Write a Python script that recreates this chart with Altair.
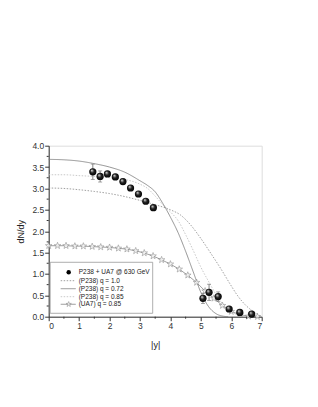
import altair as alt
import pandas as pd

# ---- data ----
circ_x = [1.45, 1.69, 1.93, 2.19, 2.44, 2.69, 2.95, 3.19, 3.44, 5.07, 5.27, 5.57, 5.93, 6.28, 6.67]
circ_y = [3.39, 3.28, 3.34, 3.27, 3.16, 3.01, 2.87, 2.70, 2.55, 0.43, 0.57, 0.47, 0.18, 0.10, 0.06]
circ_err = [0.18, 0.13, 0.04, 0.04, 0.04, 0.04, 0.04, 0.04, 0.04, 0.12, 0.19, 0.11, 0.06, 0.04, 0.04]

star_x = [0, 0.29, 0.57, 0.86, 1.14, 1.43, 1.71, 2.0, 2.29, 2.57, 2.86, 3.14, 3.43, 3.71,
          4.0, 4.29, 4.57, 4.86, 5.14, 5.43, 5.71, 6.0, 6.29, 6.57, 6.86]
star_y = [1.66, 1.66, 1.66, 1.65, 1.65, 1.64, 1.63, 1.62, 1.60, 1.58, 1.54, 1.49, 1.42, 1.33,
          1.23, 1.11, 0.97, 0.80, 0.60, 0.43, 0.26, 0.12, 0.05, 0.01, 0.0]

q072_x = [0, 0.5, 1.0, 1.5, 2.0, 2.5, 3.0, 3.25, 3.5, 3.75, 4.0, 4.25, 4.5, 4.75, 5.0, 5.25, 5.5, 5.75, 5.9]
q072_y = [3.68, 3.67, 3.64, 3.58, 3.50, 3.38, 3.18, 3.07, 2.92, 2.65, 2.33, 1.97, 1.53, 1.05, 0.57, 0.24, 0.07, 0.01, 0.0]

q085_x = [0, 0.5, 1.0, 1.5, 2.0, 2.5, 3.0, 3.25, 3.5, 3.75, 4.0, 4.25, 4.5, 4.75, 5.0, 5.25, 5.5, 5.75, 6.0, 6.25, 6.5]
q085_y = [3.32, 3.32, 3.30, 3.28, 3.25, 3.21, 3.10, 3.00, 2.82, 2.62, 2.45, 2.25, 1.92, 1.55, 1.16, 0.83, 0.52, 0.27, 0.12, 0.03, 0.0]

q100_x = [0, 0.5, 1.0, 1.5, 2.0, 2.5, 3.0, 3.5, 4.0, 4.33, 4.66, 5.0, 5.33, 5.65, 6.0, 6.2, 6.5, 6.75, 7.0]
q100_y = [3.01, 3.00, 2.97, 2.93, 2.88, 2.81, 2.72, 2.62, 2.50, 2.38, 2.15, 1.83, 1.48, 1.13, 0.72, 0.50, 0.25, 0.11, 0.0]

x_ticks = [0, 1, 2, 3, 4, 5, 6, 7]
x_minor = [0.5, 1.5, 2.5, 3.5, 4.5, 5.5, 6.5]
y_ticks = [0, 0.5, 1.0, 1.5, 2.0, 2.5, 3.0, 3.5, 4.0]
y_minor = [0.25, 0.75, 1.25, 1.75, 2.25, 2.75, 3.25, 3.75]

legend_labels = ["P238 + UA7 @ 630 GeV", "(P238)  q = 1.0", "(P238)  q = 0.72",
                 "(P238)  q = 0.85", "(UA7)  q = 0.85"]

W, H = 213, 171
STAR = "M0,-1L0.235,-0.324L0.951,-0.309L0.380,0.124L0.588,0.809L0,0.4L-0.588,0.809L-0.380,0.124L-0.951,-0.309L-0.235,-0.324Z"
FONT = "Liberation Sans"

circ = pd.DataFrame({"x": circ_x, "y": circ_y,
                     "lo": [a - b for a, b in zip(circ_y, circ_err)],
                     "hi": [a + b for a, b in zip(circ_y, circ_err)]})
stars = pd.DataFrame({"x": star_x, "y": star_y})
c072 = pd.DataFrame({"x": q072_x, "y": q072_y})
c085 = pd.DataFrame({"x": q085_x, "y": q085_y})
c100 = pd.DataFrame({"x": q100_x, "y": q100_y})

xs = alt.Scale(domain=[0, 7], nice=False)
ys = alt.Scale(domain=[0, 4], nice=False)

xax = alt.Axis(values=x_ticks, format="d", tickSize=4, labelOverlap=False, tickCount=8,
               grid=False, title="|y|", titleFontSize=9, titleFontWeight="normal",
               titlePadding=10, titleColor="#222",
               labelFontSize=8.5, labelColor="#333", domainColor="#333", tickColor="#333", labelPadding=1)
yax = alt.Axis(values=y_ticks, format=".1f", tickSize=4, labelOverlap=False, tickCount=9,
               grid=False, title="dN/dy", titleFontSize=9, titleFontWeight="normal",
               titlePadding=6, titleColor="#222",
               labelFontSize=8.5, labelColor="#333", domainColor="#333", tickColor="#333", labelPadding=1)


def XE(field="x"):
    return alt.X(f"{field}:Q", scale=xs, axis=xax, title="|y|")


def YE(field="y"):
    return alt.Y(f"{field}:Q", scale=ys, axis=yax, title="dN/dy")


def curve(df, color, dash, width=0.8):
    m = alt.Chart(df).mark_line(color=color, strokeWidth=width, interpolate="monotone",
                                strokeDash=dash if dash else [1, 0])
    return m.encode(x=XE(), y=YE())


base = alt.Chart(stars).mark_line(color="#777", strokeWidth=0.7).encode(x=XE(), y=YE())
l100 = curve(c100, "#888", [1.5, 1.5])
l085 = curve(c085, "#bbb", [1.5, 1.5])
l072 = curve(c072, "#777", None)
starpts = alt.Chart(stars).mark_point(shape=STAR, size=48, filled=True, fill="white",
                                      stroke="#777", strokeWidth=0.7).encode(x=XE(), y=YE())

# minor ticks (outside the frame)
xminor = alt.Chart(pd.DataFrame({"x": x_minor})).mark_rule(color="#333", strokeWidth=1).encode(
    x=XE(), y=alt.value(H), y2=alt.value(H + 2))
yminor = alt.Chart(pd.DataFrame({"y": y_minor})).mark_rule(color="#333", strokeWidth=1).encode(
    y=YE(), x=alt.value(0), x2=alt.value(-2))

ebar = alt.Chart(circ).mark_rule(color="#666", strokeWidth=0.8).encode(
    x=XE(), y=YE("lo"), y2="hi:Q")
cap_lo = alt.Chart(circ).mark_tick(color="#666", thickness=0.8, size=4, orient="horizontal").encode(
    x=XE(), y=YE("lo"))
cap_hi = alt.Chart(circ).mark_tick(color="#666", thickness=0.8, size=4, orient="horizontal").encode(
    x=XE(), y=YE("hi"))

grad = alt.RadialGradient(gradient="radial", x1=0.35, y1=0.3, r1=0.02, x2=0.5, y2=0.5, r2=0.55,
                          stops=[alt.GradientStop(color="#e0e0e0", offset=0),
                                 alt.GradientStop(color="#222", offset=0.45),
                                 alt.GradientStop(color="#000", offset=1)])
dots = alt.Chart(circ).mark_point(shape="circle", size=52, filled=True, fill=grad, opacity=1,
                                  strokeWidth=0).encode(x=XE(), y=YE())

# ---- legend (drawn in pixel space inside the plot) ----
leg_rows = [126.6, 135.0, 143.0, 151.0, 158.6]
leg_df = pd.DataFrame({"label": legend_labels, "py": leg_rows})
box = alt.Chart(pd.DataFrame({"a": [0]})).mark_rect(fill="white", stroke="#999", strokeWidth=0.8).encode(
    x=alt.value(1.5), x2=alt.value(104), y=alt.value(116.6), y2=alt.value(167.6))
ltext = alt.Chart(leg_df).mark_text(align="left", baseline="middle", fontSize=6.5, font=FONT,
                                    color="#222").encode(
    x=alt.value(30), y=alt.Y("py:Q", scale=None, axis=None), text="label:N")


def lline(row, color, dash):
    return alt.Chart(pd.DataFrame({"a": [0]})).mark_rule(color=color, strokeWidth=0.8,
                                                           strokeDash=dash if dash else [1, 0]).encode(
        x=alt.value(12), x2=alt.value(27), y=alt.value(leg_rows[row]))


lsym0 = alt.Chart(pd.DataFrame({"a": [0]})).mark_point(shape="circle", size=20, filled=True,
                                                        fill="black", opacity=1).encode(
    x=alt.value(20), y=alt.value(leg_rows[0]))
lsym4 = alt.Chart(pd.DataFrame({"a": [0]})).mark_point(shape=STAR, size=30, filled=True, fill="white",
                                                        stroke="#777", strokeWidth=0.7).encode(
    x=alt.value(20), y=alt.value(leg_rows[4]))

chart = alt.layer(
    base, l100, l085, l072, starpts, xminor, yminor, ebar, cap_lo, cap_hi, dots,
    box, ltext, lline(1, "#888", [1.5, 1.5]), lline(2, "#777", None), lline(3, "#bbb", [1.5, 1.5]),
    lline(4, "#777", None), lsym0, lsym4
).properties(
    width=W, height=H,
    autosize=alt.AutoSizeParams(type="none"),
    padding={"left": 40.7, "top": 137.7, "right": 48, "bottom": 80},
).configure_view(stroke="#444", strokeWidth=0.8).configure_axis(
    labelFont=FONT, titleFont=FONT
).configure(background="white")

chart.save("out.html", embed_options={"renderer": "svg", "actions": False})
